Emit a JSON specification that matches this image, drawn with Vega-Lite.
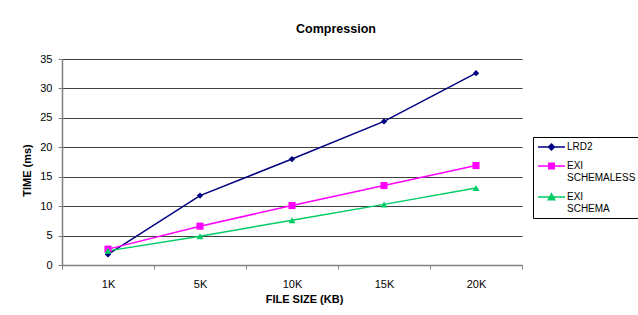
{
  "$schema": "https://vega.github.io/schema/vega-lite/v6.json",
  "width": 460,
  "height": 206,
  "autosize": {"type": "none"},
  "padding": {"left": 62, "top": 59, "right": 116, "bottom": 50},
  "background": "white",
  "config": {
    "font": "Liberation Sans",
    "view": {"stroke": null}
  },
  "title": {
    "text": "Compression",
    "font": "Liberation Sans",
    "fontSize": 12.5,
    "fontWeight": "bold",
    "color": "#000",
    "anchor": "middle",
    "frame": "group",
    "dx": 44,
    "offset": 18
  },
  "data": {
    "values": [
      {"series": "LRD2", "size": "1K", "time": 1.8},
      {"series": "LRD2", "size": "5K", "time": 11.8},
      {"series": "LRD2", "size": "10K", "time": 18.0},
      {"series": "LRD2", "size": "15K", "time": 24.4},
      {"series": "LRD2", "size": "20K", "time": 32.6},
      {"series": "EXI SCHEMALESS", "size": "1K", "time": 2.7},
      {"series": "EXI SCHEMALESS", "size": "5K", "time": 6.6},
      {"series": "EXI SCHEMALESS", "size": "10K", "time": 10.1},
      {"series": "EXI SCHEMALESS", "size": "15K", "time": 13.5},
      {"series": "EXI SCHEMALESS", "size": "20K", "time": 16.9},
      {"series": "EXI SCHEMA", "size": "1K", "time": 2.4},
      {"series": "EXI SCHEMA", "size": "5K", "time": 4.9},
      {"series": "EXI SCHEMA", "size": "10K", "time": 7.6},
      {"series": "EXI SCHEMA", "size": "15K", "time": 10.3},
      {"series": "EXI SCHEMA", "size": "20K", "time": 13.1}
    ]
  },
  "encoding": {
    "x": {
      "field": "size",
      "type": "nominal",
      "sort": ["1K", "5K", "10K", "15K", "20K"],
      "scale": {"paddingInner": 0, "paddingOuter": 0},
      "axis": {
        "title": "FILE SIZE (KB)",
        "titleFont": "Liberation Sans",
        "titleFontSize": 11,
        "titleFontWeight": "bold",
        "titleColor": "#000",
        "titleX": 242,
        "titlePadding": 4,
        "labelAngle": 0,
        "labelFont": "Liberation Sans",
        "labelFontSize": 11,
        "labelColor": "#000",
        "labelPadding": 9,
        "tickBand": "extent",
        "tickSize": 4,
        "tickColor": "#808080",
        "domainColor": "#808080",
        "domainWidth": 1.5,
        "grid": false
      }
    },
    "y": {
      "field": "time",
      "type": "quantitative",
      "scale": {"domain": [0, 35], "nice": false},
      "axis": {
        "title": "TIME (ms)",
        "titleFont": "Liberation Sans",
        "titleFontSize": 11,
        "titleFontWeight": "bold",
        "titleColor": "#000",
        "titleX": -35,
        "titleY": 111,
        "titleAlign": "center",
        "titleBaseline": "middle",
        "titleAngle": -90,
        "values": [0, 5, 10, 15, 20, 25, 30, 35],
        "labelFont": "Liberation Sans",
        "labelFontSize": 11,
        "labelColor": "#000",
        "labelPadding": 6,
        "tickSize": 4,
        "tickColor": "#808080",
        "domainColor": "#808080",
        "domainWidth": 1.5,
        "grid": true,
        "gridColor": "#404040",
        "gridWidth": 1
      }
    },
    "color": {
      "field": "series",
      "type": "nominal",
      "scale": {
        "domain": ["LRD2", "EXI SCHEMALESS", "EXI SCHEMA"],
        "range": ["#000080", "#FF00FF", "#00CC66"]
      },
      "legend": null
    }
  },
  "layer": [
    {
      "mark": {"type": "line", "strokeWidth": 1.5},
      "encoding": {
        "color": {
          "field": "series",
          "type": "nominal",
          "scale": {
            "domain": ["LRD2", "EXI SCHEMALESS", "EXI SCHEMA"],
            "range": ["#000080", "#FF00FF", "#00CC66"]
          },
          "legend": {
            "title": null,
            "orient": "none",
            "legendX": 471,
            "legendY": 78,
            "strokeColor": "#000",
            "fillColor": "#fff",
            "padding": 4,
            "rowPadding": 7,
            "symbolSize": 100,
            "symbolStrokeWidth": 1.5,
            "labelFont": "Liberation Sans",
            "labelFontSize": 10,
            "labelColor": "#000",
            "labelOffset": 18,
            "labelLimit": 200,
            "labelExpr": "split(datum.label, ' ')",
            "encode": {
              "symbols": {
                "update": {
                  "shape": {"signal": "datum.value == 'LRD2' ? 'M-1,0L4.4,0M1.7,-0.6L2.3,0L1.7,0.6L1.1,0Z' : datum.value == 'EXI SCHEMALESS' ? 'M-1,0L4.4,0M1.15,-0.55L2.25,-0.55L2.25,0.55L1.15,0.55Z' : 'M-1,0L4.4,0M1.7,-0.65L2.35,0.55L1.05,0.55Z'"},
                  "fill": {"signal": "datum.value == 'LRD2' ? '#000080' : datum.value == 'EXI SCHEMALESS' ? '#FF00FF' : '#00CC66'"},
                  "stroke": {"signal": "datum.value == 'LRD2' ? '#000080' : datum.value == 'EXI SCHEMALESS' ? '#FF00FF' : '#00CC66'"},
                  "fillOpacity": {"value": 1},
                  "strokeWidth": {"value": 1.5}
                }
              }
            }
          }
        }
      }
    },
    {
      "transform": [{"filter": "datum.series == 'LRD2'"}],
      "mark": {"type": "point", "filled": true, "opacity": 1, "shape": "diamond", "size": 40}
    },
    {
      "transform": [{"filter": "datum.series == 'EXI SCHEMALESS'"}],
      "mark": {"type": "point", "filled": true, "opacity": 1, "shape": "square", "size": 50}
    },
    {
      "transform": [{"filter": "datum.series == 'EXI SCHEMA'"}],
      "mark": {"type": "point", "filled": true, "opacity": 1, "shape": "triangle-up", "size": 48}
    }
  ]
}
